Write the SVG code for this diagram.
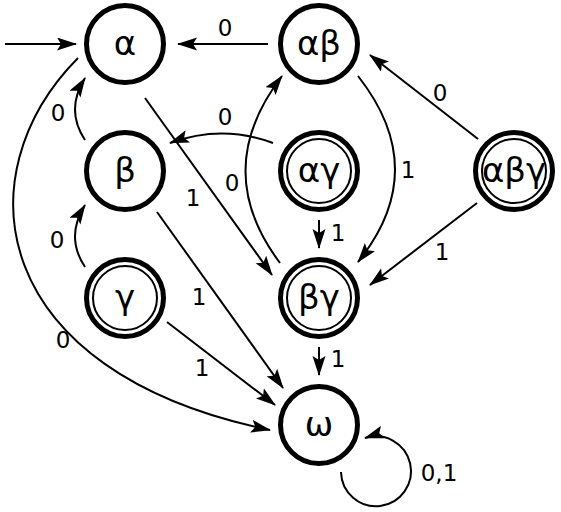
<svg xmlns="http://www.w3.org/2000/svg" width="561" height="512" viewBox="0 0 561 512">
<style>
.n{fill:#fff;stroke:#000;stroke-width:5}
.in{fill:none;stroke:#000;stroke-width:2}
.t{font-family:"DejaVu Sans",sans-serif;font-size:34px;text-anchor:middle;fill:#000}
.e{fill:none;stroke:#000;stroke-width:2;marker-end:url(#ah)}
.l{font-family:"DejaVu Sans",sans-serif;font-size:23px;text-anchor:middle;fill:#000}
</style>
<defs>
<marker id="ah" markerUnits="userSpaceOnUse" markerWidth="22" markerHeight="14" refX="19" refY="6.5" orient="auto">
<path d="M0,0 L20,6.5 L0,13 L4,6.5 z" fill="#000"/>
</marker>
</defs>
<rect width="561" height="512" fill="#fff"/>
<g id="connectors">
<path class="e" d="M5,44 L76,44"/>
<path class="e" d="M268,44 L178,44"/>
<path class="e" d="M145,98 L272,275"/>
<path class="e" d="M157,212 L283,388"/>
<path class="e" d="M167,322 L275,405"/>
<path class="e" d="M478,139 L370,55"/>
<path class="e" d="M477,203 L370,285"/>
<path class="e" d="M319,220 L319,248"/>
<path class="e" d="M319,347 L319,375"/>
<path class="e" d="M85,140 Q65,110 85,78"/>
<path class="e" d="M85,267 Q65,237 85,205"/>
<path class="e" d="M273,143 Q222,124 170,143"/>
<path class="e" d="M280,263 Q210,170 282,76"/>
<path class="e" d="M358,76 Q432,170 358,262"/>
<path class="e" d="M78,58 C-38,175 -12,372 270,430"/>
<path class="e" d="M341,472 A35,35 0 1 0 365,438"/>
<text class="l" x="225" y="36">0</text>
<text class="l" x="58" y="121">0</text>
<text class="l" x="57" y="248">0</text>
<text class="l" x="225" y="125">0</text>
<text class="l" x="232" y="191">0</text>
<text class="l" x="193" y="206">1</text>
<text class="l" x="408" y="178">1</text>
<text class="l" x="440" y="101">0</text>
<text class="l" x="442" y="260">1</text>
<text class="l" x="338" y="241">1</text>
<text class="l" x="338" y="367">1</text>
<text class="l" x="199" y="305">1</text>
<text class="l" x="202" y="376">1</text>
<text class="l" x="63" y="348">0</text>
<text class="l" x="439" y="481">0,1</text>
</g>
<g id="n-a"><circle class="n" cx="125" cy="44" r="38.5"/><text class="t" x="125" y="55">α</text></g>
<g id="n-ab"><circle class="n" cx="319" cy="44" r="38.5"/><text class="t" x="319" y="55">αβ</text></g>
<g id="n-b"><circle class="n" cx="125" cy="171" r="38.5"/><text class="t" x="125" y="182">β</text></g>
<g id="n-ag"><circle class="n" cx="319" cy="171" r="38.5"/><circle class="in" cx="319" cy="171" r="32"/><text class="t" x="319" y="182">αγ</text></g>
<g id="n-abg"><circle class="n" cx="514" cy="171" r="38.5"/><circle class="in" cx="514" cy="171" r="32"/><text class="t" x="514" y="182">αβγ</text></g>
<g id="n-g"><circle class="n" cx="125" cy="298" r="38.5"/><circle class="in" cx="125" cy="298" r="32"/><text class="t" x="125" y="309">γ</text></g>
<g id="n-bg"><circle class="n" cx="319" cy="298" r="38.5"/><circle class="in" cx="319" cy="298" r="32"/><text class="t" x="319" y="309">βγ</text></g>
<g id="n-w"><circle class="n" cx="319" cy="425" r="38.5"/><text class="t" x="319" y="436">ω</text></g>
</svg>
